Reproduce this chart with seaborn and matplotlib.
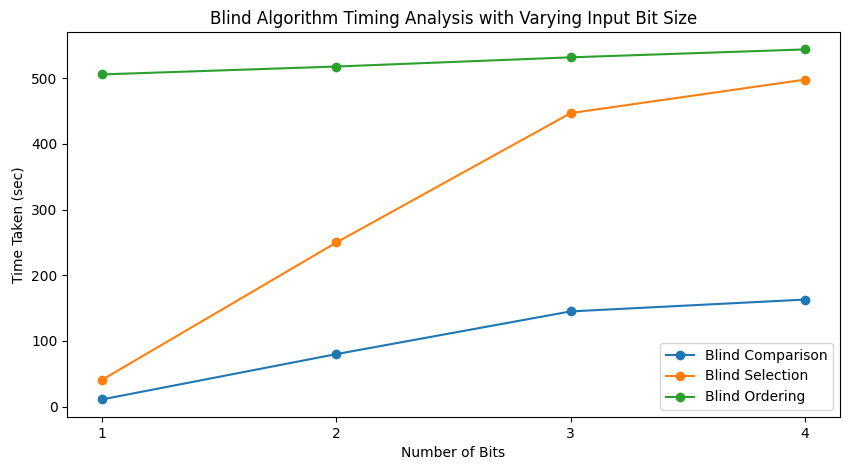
import pandas as pd
import matplotlib
matplotlib.use('Agg')
import matplotlib.pyplot as plt
import seaborn as sns

# Timing values
bits = [1, 2, 3, 4]
blind_comparison = [11, 80, 145, 163]
blind_selection = [41, 250, 447, 498]
blind_ordering = [506, 518, 532, 544]

series = {
    'Blind Comparison': blind_comparison,
    'Blind Selection': blind_selection,
    'Blind Ordering': blind_ordering,
}

fig, ax = plt.subplots(figsize=(8.5, 4.7), dpi=100)
fig.subplots_adjust(left=0.079, right=0.988, top=0.932, bottom=0.113)

colors = sns.color_palette('tab10', 3)
for (name, vals), c in zip(series.items(), colors):
    sns.lineplot(x=bits, y=vals, marker='o', markeredgewidth=0, markersize=7,
                 color=c, label=name, ax=ax)

ax.set_title('Blind Algorithm Timing Analysis with Varying Input Bit Size')
ax.set_xlabel('Number of Bits')
ax.set_ylabel('Time Taken (sec)')
ax.set_xticks(bits)
ax.legend(loc='lower right')

fig.savefig('out.png')
